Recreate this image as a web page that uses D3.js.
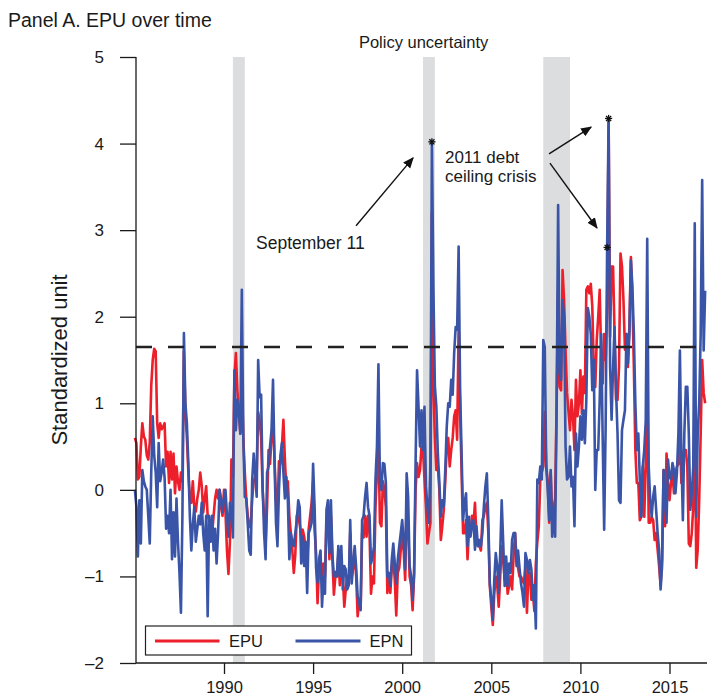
<!DOCTYPE html>
<html><head><meta charset="utf-8">
<script src="https://cdn.jsdelivr.net/npm/d3@7"></script>
<style>
body{margin:0;background:#fff}
text{font-family:"Liberation Sans", Arial, Helvetica, sans-serif;fill:#1a1a1a}
</style>
</head><body>
<svg id="chart" width="707" height="698"></svg>
<script>
// ---------------- DATA ----------------
const startYear = 1985; // monthly series, first value = Jan 1985
const epuByYear = [
  [0.6, 0.54, 0.12, 0.15, 0.5, 0.77, 0.62, 0.58, 0.4, 0.35, 0.55, 1.2],      // 1985
  [1.5, 1.63, 1.6, 0.77, 0.6, 0.77, 0.7, 0.73, 0.77, 0.27, 0.44, 0.08],     // 1986
  [0.44, 0.12, 0.42, -0.04, 0.27, 0.1, 0.0, 0.2, 0.1, 1.6, 0.9, 0.6],      // 1987
  [0.2, -0.1, -0.15, 0.1, -0.2, -0.25, -0.1, 0.0, 0.2, 0.05, -0.26, -0.1], // 1988
  [0.04, -0.3, -0.35, -0.45, -0.5, -0.3, -0.1, 0.0, -0.1, 0.0, -0.2, -0.3], // 1989
  [0.0, -0.26, -0.7, -0.97, -0.6, 0.35, 0.15, 1.3, 1.58, 1.15, 0.9, 0.65],  // 1990
  [1.3, 0.6, 0.2, -0.1, -0.3, -0.43, -0.4, -0.1, 0.1, 0.15, 0.2, 0.9],     // 1991
  [0.8, 0.6, 0.0, -0.3, -0.65, -0.2, 0.46, 0.3, 0.6, 0.85, 0.35, -0.1],    // 1992
  [-0.3, 0.33, 0.3, 0.5, 0.81, 0.35, 0.0, 0.1, -0.3, -0.5, -0.7, -0.96],   // 1993
  [-0.75, -0.3, -0.3, -0.4, -0.54, -0.46, -0.54, -0.7, -0.85, -0.46, -0.3, -0.15], // 1994
  [0.1, -0.46, -0.73, -1.31, -0.92, -0.8, -1.03, -0.85, -1.0, -0.35, -0.3, -0.8],  // 1995
  [-0.3, -0.8, -1.21, -1.0, -1.0, -0.75, -1.1, -0.8, -1.0, -1.35, -1.15, -1.0],    // 1996
  [-1.1, -0.5, -1.0, -0.9, -0.75, -1.0, -1.46, -1.3, -1.38, -0.5, -0.55, -0.3],    // 1997
  [-0.54, -0.3, -0.5, -1.2, -1.0, -1.08, -0.2, 0.2, 0.61, -0.38, -0.42, 0.1],      // 1998
  [0.0, -0.2, -1.19, -1.0, -1.19, -0.9, -0.8, -1.04, -1.45, -0.96, -0.9, -0.7],    // 1999
  [-0.5, -0.7, -1.04, -0.1, -0.42, -1.0, -1.1, -1.39, -1.0, 0.0, 0.31, 0.15],      // 2000
  [0.23, 0.5, 0.46, 0.12, -0.2, -0.62, -0.5, -0.38, 3.2, 1.2, 0.6, 0.23],          // 2001
  [0.27, 0.0, -0.58, -0.42, -0.23, 0.1, 0.5, 0.6, 0.27, 0.46, 0.6, 0.85],          // 2002
  [0.92, 0.58, 1.9, 0.9, 0.2, -0.5, -0.5, -0.35, -0.8, -0.45, -0.5, -0.3],         // 2003
  [-0.4, -0.15, -0.54, -0.6, -0.65, -0.7, -0.35, -0.3, -0.2, -0.15, -0.5, -1.11],  // 2004
  [-1.35, -1.56, -1.2, -1.0, -1.1, -1.35, -1.0, -0.65, -0.8, -1.04, -0.9, -1.2],   // 2005
  [-1.11, -1.0, -1.15, -0.77, -0.5, -0.8, -0.9, -1.0, -1.0, -1.05, -1.08, -0.9],   // 2006
  [-1.42, -0.96, -0.96, -1.27, -1.19, -1.4, -0.85, -0.6, -0.42, 0.12, 0.2, 0.27],  // 2007
  [0.9, 0.27, 0.1, -0.38, 0.2, -0.3, -0.2, -0.1, 1.0, 2.3, 1.19, 1.15],            // 2008
  [2.54, 2.19, 1.6, 1.12, 0.9, 0.69, 1.04, 0.85, 0.46, 1.27, 0.85, 1.0],           // 2009
  [1.38, 0.88, 1.31, 1.12, 2.31, 2.35, 2.27, 2.38, 2.12, 1.42, 1.19, 1.73],        // 2010
  [2.0, 2.31, 1.5, 1.23, 1.8, 1.5, 2.1, 4.25, 1.77, 2.58, 2.58, 1.8],              // 2011
  [1.04, 1.04, 1.42, 2.73, 2.58, 2.19, 1.62, 1.8, 1.42, 1.9, 2.69, 2.2],           // 2012
  [1.42, 0.46, 0.08, 0.08, -0.35, -0.31, 0.27, -0.31, 0.3, 1.2, -0.38, -0.38],     // 2013
  [-0.31, -0.35, -0.58, -0.5, -0.69, -0.88, -1.1, -0.8, 0.23, -0.42, 0.42, 0.08],  // 2014
  [-0.12, 0.08, 0.19, -0.04, 0.19, 0.27, 0.3, 0.65, 0.08, 0.42, 0.46, 0.46],       // 2015
  [0.27, -0.62, -0.65, -0.5, -0.2, 1.04, -0.9, -0.69, -0.12, 0.65, 1.5, 1.12],     // 2016
  [1.0]                                                                            // 2017
];
const epnByYear = [
  [0.0, -0.19, -0.77, -0.12, -0.62, 0.23, 0.1, 0.04, 0.0, -0.3, -0.62, 0.2],       // 1985
  [0.85, 0.4, 0.2, -0.2, 0.54, 0.1, 0.2, 0.35, 0.14, -0.45, -0.3, -0.5],           // 1986
  [0.0, -0.8, -0.26, -0.77, -0.1, -0.6, -0.95, -1.42, -0.3, 1.81, 1.0, 0.77],      // 1987
  [0.3, -0.3, -0.7, -0.4, -0.2, -0.6, -0.45, -0.3, -0.4, -0.15, -0.5, -0.7],       // 1988
  [-0.3, -1.46, -0.3, -0.6, -0.3, -0.7, -0.45, -0.85, -0.5, 0.0, -0.1, -0.26],     // 1989
  [-0.1, 0.0, -0.3, -0.54, -0.15, -0.23, -0.55, 1.38, 0.69, 1.04, 0.9, 0.65],      // 1990
  [2.31, 0.6, -0.08, -0.1, -0.4, -0.7, -0.75, 0.12, 0.42, 0.2, -0.08, 1.5],        // 1991
  [1.07, 1.1, 0.04, -0.5, -0.8, 0.2, 0.27, 0.5, 0.69, 1.27, 0.35, -0.38],          // 1992
  [-0.65, 0.0, 0.4, 0.54, 0.2, -0.1, 0.15, -0.12, -0.8, -0.5, -0.6, -0.65],        // 1993
  [-0.5, -0.35, -0.12, -0.2, -0.85, -0.54, -0.88, -0.6, -1.19, -0.5, -0.45, -0.38],// 1994
  [0.3, -0.2, -0.9, -1.07, -0.8, -0.7, -1.35, -1.0, -1.2, -0.23, -0.12, -0.73],    // 1995
  [-0.12, -0.75, -1.0, -0.95, -1.0, -0.65, -1.0, -0.65, -1.15, -0.88, -0.92, -1.15],// 1996
  [-1.1, -0.35, -1.08, -0.85, -0.65, -0.9, -1.23, -1.3, -1.39, -0.35, -0.3, -0.08],// 1997
  [0.08, -0.2, -0.3, -0.85, -0.78, -0.65, 0.12, 0.5, 1.45, 0.08, 0.0, 0.31],       // 1998
  [0.3, 0.08, -1.0, -0.96, -1.11, -0.8, -0.62, -0.85, -1.08, -0.81, -0.65, -0.5],  // 1999
  [-0.35, -0.6, -0.92, 0.19, -0.08, -0.88, -1.0, -1.27, -0.96, 0.3, 1.38, 0.96],   // 2000
  [0.5, 0.92, 0.46, 0.96, 0.04, -0.2, -0.38, 0.3, 4.02, 2.35, 1.2, 0.96],          // 2001
  [0.42, 0.1, -0.31, -0.12, -0.19, 0.23, 0.73, 1.0, 0.96, 1.27, 1.1, 1.58],        // 2002
  [1.88, 1.85, 2.81, 1.15, 0.42, -0.35, -0.15, -0.04, -0.65, -0.31, -0.54, -0.4],  // 2003
  [-0.35, -0.69, -0.42, -0.65, -0.58, -0.65, -0.5, -0.19, 0.04, 0.19, -0.35, -1.08],// 2004
  [-1.27, -1.5, -1.04, -0.73, -0.88, -1.19, -0.73, -0.12, -0.6, -1.11, -0.77, -1.11],// 2005
  [-0.85, -0.96, -0.58, -0.5, -0.5, -0.88, -0.7, -0.9, -1.08, -1.19, -1.35, -0.73],// 2006
  [-0.81, -0.96, -0.81, -0.92, -1.27, -1.1, -1.6, 0.12, 0.08, 0.27, 0.12, 1.73],   // 2007
  [1.65, 0.27, 0.0, -0.35, 0.23, -0.54, -0.2, -0.54, 1.0, 3.29, 1.35, 1.27],       // 2008
  [2.19, 2.0, 0.5, 0.12, 0.15, 0.5, 0.04, 0.15, -0.42, 0.65, 0.27, 0.5],           // 2009
  [0.85, 0.58, 0.92, 0.54, 1.04, 2.1, 2.0, 1.8, 1.15, 1.5, 0.0, 0.46],             // 2010
  [0.46, 1.04, 1.8, 0.6, -0.46, 0.73, 2.8, 4.29, 1.42, 0.81, 1.42, 1.88],          // 2011
  [1.15, 0.65, -0.12, -0.15, 0.69, 0.81, 0.92, 1.8, 1.46, 1.8, 2.65, 2.35],        // 2012
  [1.8, 1.0, 0.46, 0.65, 0.12, -0.31, 0.27, 0.46, 0.8, 2.9, 0.27, -0.12],          // 2013
  [-0.31, -0.08, 0.04, -0.23, -0.5, -0.7, -1.15, -0.88, 0.23, -0.12, -0.38, 0.35], // 2014
  [0.15, 0.12, 0.31, 0.23, -0.04, 0.2, 0.65, 1.61, 0.42, -0.35, 0.65, 1.19],       // 2015
  [1.19, 0.65, -0.23, -0.04, 0.27, 3.08, -0.31, 0.65, 1.0, 1.8, 3.58, 1.61],       // 2016
  [2.3]                                                                            // 2017
];
const yTicks = [-2, -1, 0, 1, 2, 3, 4, 5];
const xTicks = [1990, 1995, 2000, 2005, 2010, 2015];
const recessions = [[1990.5, 1991.167], [2001.167, 2001.833], [2007.917, 2009.417]];
const threshold = 1.65;
const starred = [[2001, 8], [2011, 6], [2011, 7]]; // [year, month index] on EPN
const seriesNames = ["EPU", "EPN"];
const titleText = "Panel A. EPU over time";
const yLabel = "Standardized unit";
const bandLabel = "Policy uncertainty";
// annotation anchors in data space [year, value]
const annSept = {text: ["September 11"], at: [1991.8, 2.78], from: [1997.41, 3.05], to: [2000.61, 3.835]};
const annDebt = {text: ["2011 debt", "ceiling crisis"], at: [2002.4, 3.78],
  arrows: [{from: [2008.24, 3.88], to: [2010.6, 4.19]}, {from: [2008.29, 3.775], to: [2010.93, 3.025]}]};

// ---------------- BUILD ----------------
const toSeries = arr => arr.flatMap((yr, i) => yr.map((v, m) => ({t: startYear + i + m / 12, v})));
const epu = toSeries(epuByYear);
const epn = toSeries(epnByYear);

const svg = d3.select("#chart");
const x = d3.scaleLinear().domain([1990, 2015]).range([224, 669.5]);
const y = d3.scaleLinear().domain([-2, 5]).range([663, 57]);
const xLeft = 136, xRight = 707;

const colors = {EPU: "#ec1f2a", EPN: "#3a55a7"};
const font = '"Liberation Sans", Arial, sans-serif';

// recession bands
svg.append("g").selectAll("rect").data(recessions).join("rect")
  .attr("x", d => x(d[0])).attr("width", d => x(d[1]) - x(d[0]))
  .attr("y", y(5)).attr("height", y(-2) - y(5))
  .attr("fill", "#dcdddf");

// lines
const line = d3.line().x(d => x(d.t)).y(d => y(d.v)).curve(d3.curveLinear);
svg.append("path").datum(epu).attr("d", line).attr("fill", "none")
  .attr("stroke", colors.EPU).attr("stroke-width", 2.6).attr("stroke-linejoin", "round");
svg.append("path").datum(epn).attr("d", line).attr("fill", "none")
  .attr("stroke", colors.EPN).attr("stroke-width", 2.6).attr("stroke-linejoin", "round");

// threshold dashed line
svg.append("line").attr("x1", xLeft).attr("x2", xRight)
  .attr("y1", y(threshold)).attr("y2", y(threshold))
  .attr("stroke", "#222").attr("stroke-width", 2.6).attr("stroke-dasharray", "16,16");

// asterisks
const starPts = starred.map(([yr, m]) => epn[(yr - startYear) * 12 + m]);
const stars = svg.append("g").selectAll("g").data(starPts).join("g")
  .attr("transform", d => `translate(${x(d.t)},${y(d.v)})`);
[0, 45, 90, 135].forEach(a => {
  stars.append("line").attr("x1", -3.6).attr("x2", 3.6).attr("y1", 0).attr("y2", 0)
    .attr("transform", `rotate(${a})`).attr("stroke", "#111").attr("stroke-width", 1.3);
});

// axes
const yAxis = svg.append("g").attr("transform", `translate(${xLeft},0)`)
  .call(d3.axisLeft(y).tickValues(yTicks).tickSize(16).tickPadding(16)
    .tickFormat(d => d < 0 ? "\u2013" + Math.abs(d) : d));
yAxis.select(".domain").attr("d", `M0,${y(5)}V${y(-2)}`).attr("stroke", "#1a1a1a").attr("stroke-width", 1.3);
yAxis.selectAll(".tick line").attr("stroke", "#1a1a1a").attr("stroke-width", 1.3);
yAxis.selectAll("text").style("font-size", "17px").attr("fill", "#1a1a1a").style("font-family", font);

const xAxis = svg.append("g").attr("transform", `translate(0,${y(-2)})`)
  .call(d3.axisBottom(x).tickValues(xTicks).tickSize(11).tickPadding(7).tickFormat(d3.format("d")));
xAxis.select(".domain").attr("d", `M${xLeft},0H${xRight}`).attr("stroke", "#1a1a1a").attr("stroke-width", 1.3);
xAxis.selectAll(".tick line").attr("stroke", "#1a1a1a").attr("stroke-width", 1.3);
xAxis.selectAll("text").style("font-size", "16.5px").attr("fill", "#1a1a1a").style("font-family", font);

// legend
const lg = svg.append("g");
lg.append("rect").attr("x", 145.5).attr("y", 626).attr("width", 266).attr("height", 29)
  .attr("fill", "#fff").attr("stroke", "#222").attr("stroke-width", 1.2);
const legendItems = [{name: seriesNames[0], x0: 155, x1: 219.5, tx: 229}, {name: seriesNames[1], x0: 295.5, x1: 360.5, tx: 369.5}];
legendItems.forEach(it => {
  lg.append("line").attr("x1", it.x0).attr("x2", it.x1).attr("y1", 641).attr("y2", 641)
    .attr("stroke", colors[it.name]).attr("stroke-width", 3);
  lg.append("text").attr("x", it.tx).attr("y", 647).style("font-size", "16.5px").text(it.name);
});

// texts
svg.append("text").attr("x", 8).attr("y", 27).style("font-size", "19.5px").text(titleText);
svg.append("text").attr("transform", `translate(67,${(y(5) + y(-2)) / 2}) rotate(-90)`)
  .attr("text-anchor", "middle").style("font-size", "22px").text(yLabel);
svg.append("text").attr("x", x(2001.2)).attr("y", 48).attr("text-anchor", "middle")
  .style("font-size", "16.5px").text(bandLabel);

// arrows
const defs = svg.append("defs");
defs.append("marker").attr("id", "ah").attr("viewBox", "0 0 10 10").attr("refX", 9).attr("refY", 5)
  .attr("markerWidth", 11).attr("markerHeight", 11).attr("markerUnits", "userSpaceOnUse").attr("orient", "auto")
  .append("path").attr("d", "M0,0.8L10,5L0,9.2Z").attr("fill", "#111");
const arrow = (a) => svg.append("line")
  .attr("x1", x(a.from[0])).attr("y1", y(a.from[1]))
  .attr("x2", x(a.to[0])).attr("y2", y(a.to[1]))
  .attr("stroke", "#111").attr("stroke-width", 1.4).attr("marker-end", "url(#ah)");
arrow(annSept);
annDebt.arrows.forEach(arrow);

svg.append("text").attr("x", x(annSept.at[0])).attr("y", y(annSept.at[1]))
  .style("font-size", "17.5px").text(annSept.text[0]);
annDebt.text.forEach((t, i) => svg.append("text")
  .attr("x", x(annDebt.at[0])).attr("y", y(annDebt.at[1]) + i * 19)
  .style("font-size", "17px").text(t));
</script>
</body></html>
